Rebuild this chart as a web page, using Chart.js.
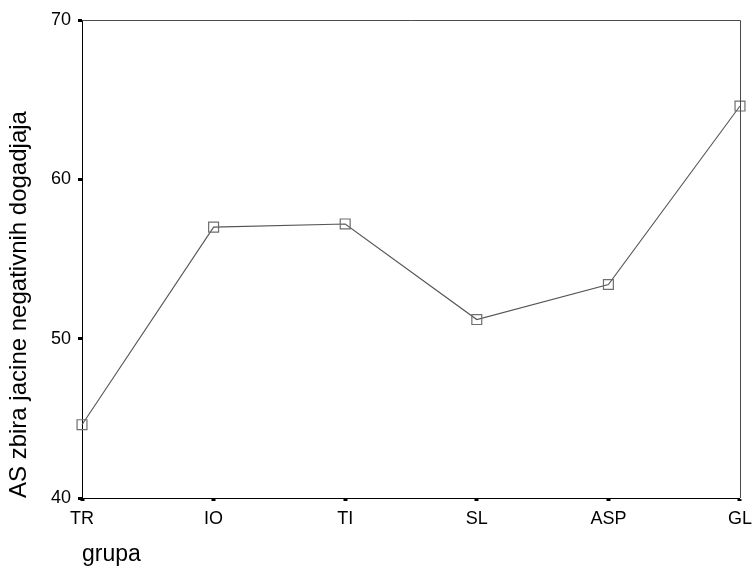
<!DOCTYPE html>
<html>
<head>
<meta charset="utf-8">
<script src="https://cdn.jsdelivr.net/npm/chart.js@4/dist/chart.umd.min.js"></script>
<style>
  html, body { margin: 0; padding: 0; background: #ffffff; }
  #wrap { width: 752px; height: 568px; }
</style>
</head>
<body>
<div id="wrap"><canvas id="c" width="752" height="568"></canvas></div>
<script>
// Mean score per group
const groups = ['TR', 'IO', 'TI', 'SL', 'ASP', 'GL'];
const meanScores = [44.6, 57.0, 57.2, 51.2, 53.4, 64.6];
const yTicks = [40, 50, 60, 70];
const yTitle = 'AS zbira jacine negativnih dogadjaja';
const xTitle = 'grupa';

const FONT = "'Liberation Sans', Arial, Helvetica, sans-serif";

// Thin grey frame on the top and right sides of the plot area
const frame = {
  id: 'frame',
  afterDatasetsDraw(chart) {
    const { ctx, chartArea: a } = chart;
    ctx.save();
    ctx.strokeStyle = '#4a4a4a';
    ctx.lineWidth = 1;
    ctx.beginPath();
    ctx.moveTo(Math.round(a.left), Math.round(a.top) + 0.5);
    ctx.lineTo(Math.round(a.right) + 0.5, Math.round(a.top) + 0.5);
    ctx.lineTo(Math.round(a.right) + 0.5, Math.round(a.bottom));
    ctx.stroke();
    ctx.restore();
  }
};

new Chart(document.getElementById('c'), {
  type: 'line',
  data: {
    labels: groups,
    datasets: [{
      data: meanScores,
      borderColor: '#555555',
      borderWidth: 1.1,
      tension: 0,
      fill: false,
      pointStyle: 'rect',
      pointRadius: 7,
      pointHoverRadius: 7,
      pointBorderWidth: 1.2,
      pointBorderColor: '#6e6e6e',
      pointBackgroundColor: 'rgba(0,0,0,0)',
      clip: false
    }]
  },
  options: {
    responsive: false,
    animation: false,
    events: [],
    layout: { padding: { top: 20, right: 0, left: 0, bottom: 0 } },
    plugins: {
      legend: { display: false },
      tooltip: { enabled: false }
    },
    scales: {
      x: {
        type: 'category',
        offset: false,
        border: { display: true, color: '#000000', width: 1 },
        grid: {
          drawOnChartArea: false,
          drawTicks: true,
          tickLength: 3,
          tickWidth: 4,
          tickColor: '#000000',
          offset: false
        },
        ticks: {
          color: '#000000',
          padding: 0,
          maxRotation: 0,
          autoSkip: false,
          font: { family: FONT, size: 18, lineHeight: 2.0 }
        },
        title: {
          display: true,
          text: xTitle,
          align: 'start',
          color: '#000000',
          padding: { top: 0, bottom: 0 },
          font: { family: FONT, size: 23 }
        },
        afterFit(scale) { scale.height = 70; }
      },
      y: {
        min: 40,
        max: 70,
        afterBuildTicks(scale) { scale.ticks = yTicks.map(v => ({ value: v })); },
        border: { display: true, color: '#000000', width: 1 },
        grid: {
          drawOnChartArea: false,
          drawTicks: true,
          tickLength: 4,
          tickWidth: 3,
          tickColor: '#000000'
        },
        ticks: {
          color: '#000000',
          padding: 7,
          font: { family: FONT, size: 18 }
        },
        title: {
          display: true,
          text: yTitle,
          align: 'start',
          color: '#000000',
          padding: { top: 5, bottom: 0 },
          font: { family: FONT, size: 24 }
        },
        afterFit(scale) { scale.width = 82; }
      }
    }
  },
  plugins: [frame]
});
</script>
</body>
</html>
